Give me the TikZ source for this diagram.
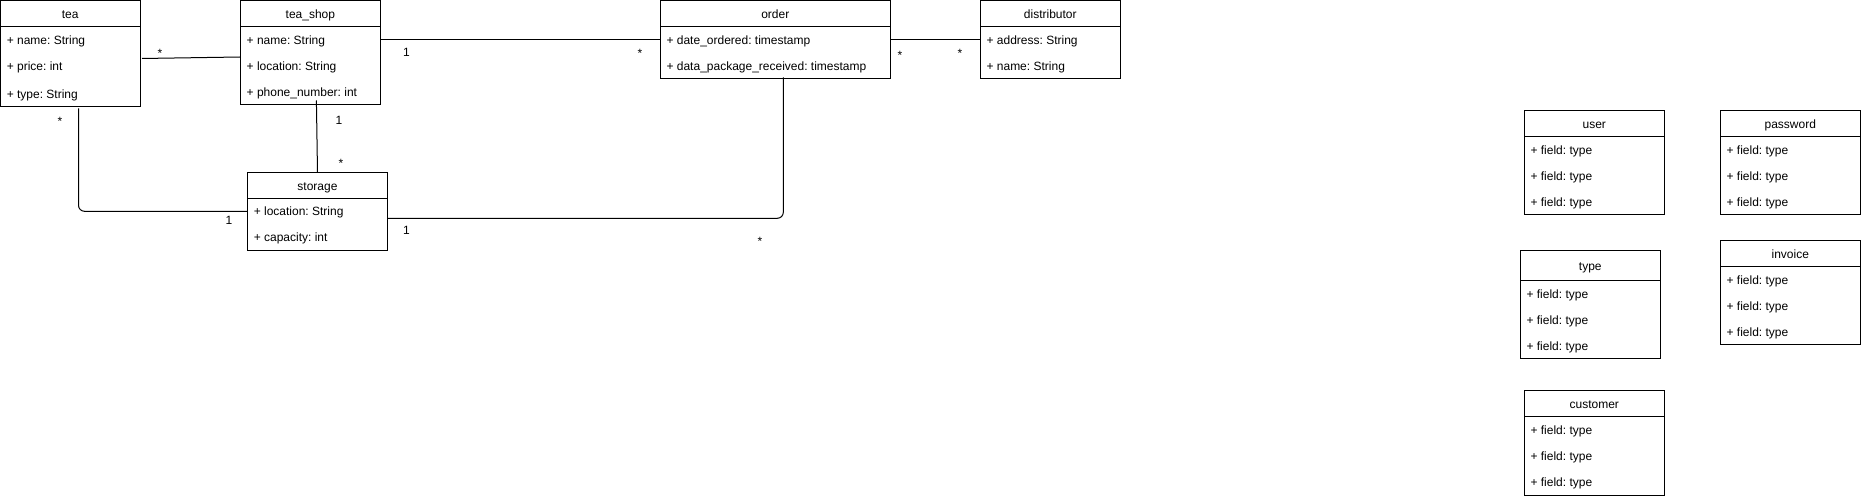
\documentclass[tikz,border=0pt]{standalone}
\usepackage{fontspec}
\setmainfont{Liberation Sans}
\usetikzlibrary{calc}
\frenchspacing
\newcommand{\umlbox}[6]{%
  \node[cls, minimum width=#4*0.75pt, minimum height=#5*0.75pt] (#1) at (#2,#3) {};
  \draw[conn] ($(#1.north west)+(0,#6)$) -- ($(#1.north east)+(0,#6)$);
}
\begin{document}
\frenchspacing
\begin{tikzpicture}[x=0.75pt,y=-0.75pt,
  font=\fontsize{9pt}{11pt}\selectfont\frenchspacing,
  cls/.style={draw, line width=0.75pt, anchor=north west, inner sep=0pt, outer sep=0pt},
  conn/.style={line width=0.75pt},
  ttl/.style={anchor=base, inner sep=0pt},
  attr/.style={anchor=base west, inner sep=0pt},
  mult/.style={anchor=base, inner sep=0pt}]
\useasboundingbox (0,0) rectangle (1861,498);

% classes
\umlbox{tea}{0.5}{0.5}{139.5}{106}{26}
\umlbox{tshop}{240.4}{0.5}{140}{104}{26}
\umlbox{storage}{247.5}{172.3}{140}{78}{26}
\umlbox{order}{660.3}{0.5}{230}{78}{26}
\umlbox{dist}{980.3}{0.5}{140}{78}{26}
\umlbox{user}{1524.3}{110.3}{140}{104}{26}
\umlbox{pwd}{1720.3}{110.3}{140}{104}{26}
\umlbox{type}{1520.3}{250.3}{140}{108}{30}
\umlbox{inv}{1720.3}{240.3}{140}{104}{26}
\umlbox{cust}{1524.3}{390.3}{140}{105}{26}

% titles
\node[ttl] (tea-t) at ($(tea.north)+(0,18)$) {tea};
\node[ttl] (tshop-t) at ($(tshop.north)+(0,18)$) {tea\_shop};
\node[ttl] (storage-t) at ($(storage.north)+(0,18)$) {storage};
\node[ttl] (order-t) at ($(order.north)+(0,18)$) {order};
\node[ttl] (dist-t) at ($(dist.north)+(0,18)$) {distributor};
\node[ttl] (user-t) at ($(user.north)+(0,18)$) {user};
\node[ttl] (pwd-t) at ($(pwd.north)+(0,18)$) {password};
\node[ttl] (type-t) at ($(type.north)+(0,20)$) {type};
\node[ttl] (inv-t) at ($(inv.north)+(0,18)$) {invoice};
\node[ttl] (cust-t) at ($(cust.north)+(0,18)$) {customer};

% attributes
\node[attr] (tea-a1) at ($(tea.north west)+(6,44)$) {+ name: String};
\node[attr] (tea-a2) at ($(tea.north west)+(6,70)$) {+ price: int};
\node[attr] (tea-a3) at ($(tea.north west)+(6,98)$) {+ type: String};

\node[attr] (tshop-a1) at ($(tshop.north west)+(6,44)$) {+ name: String};
\node[attr] (tshop-a2) at ($(tshop.north west)+(6,70)$) {+ location: String};
\node[attr] (tshop-a3) at ($(tshop.north west)+(6,96)$) {+ phone\_number: int};

\node[attr] (storage-a1) at ($(storage.north west)+(6,43.5)$) {+ location: String};
\node[attr] (storage-a2) at ($(storage.north west)+(6,69.5)$) {+ capacity: int};

\node[attr] (order-a1) at ($(order.north west)+(6,44)$) {+ date\_ordered: timestamp};
\node[attr] (order-a2) at ($(order.north west)+(6,70)$) {+ data\_package\_received: timestamp};

\node[attr] (dist-a1) at ($(dist.north west)+(6,44)$) {+ address: String};
\node[attr] (dist-a2) at ($(dist.north west)+(6,70)$) {+ name: String};

\foreach \b/\o in {user/0,pwd/0,inv/0,cust/0,type/4}{
  \node[attr] (\b-a1) at ($(\b.north west)+(6,43.8+\o)$) {+ field: type};
  \node[attr] (\b-a2) at ($(\b.north west)+(6,69.8+\o)$) {+ field: type};
  \node[attr] (\b-a3) at ($(\b.north west)+(6,95.8+\o)$) {+ field: type};
}

% connectors
\draw[conn] ($(tea.north east)+(2,58)$) -- ($(tshop.north west)+(0,56.5)$);
\draw[conn] ($(tshop.north east)+(0,39)$) -- ($(order.north west)+(0,39)$);
\draw[conn] ($(order.north east)+(0,39)$) -- ($(dist.north west)+(0,39)$);
\draw[conn] ($(tshop.north west)+(76,100)$) -- (storage.north);
\draw[conn, rounded corners=4.5pt] ($(tea.north west)+(78,108)$) |- ($(storage.north west)+(0,39)$);
\draw[conn, rounded corners=4.5pt] ($(storage.north east)+(0,46)$) -| ($(order.north west)+(123,77)$);

% multiplicities
\node[mult] (m1) at (160,57.7) {*};
\node[mult] (m2) at (406.5,57) {1};
\node[mult] (m3) at (640,57.7) {*};
\node[mult] (m4) at (900,59.3) {*};
\node[mult] (m5) at (960,57.7) {*};
\node[mult] (m6) at (339,125) {1};
\node[mult] (m7) at (341,168) {*};
\node[mult] (m8) at (60,125.3) {*};
\node[mult] (m9) at (229,225) {1};
\node[mult] (m10) at (406.5,234.3) {1};
\node[mult] (m11) at (760,245.3) {*};
\end{tikzpicture}
\end{document}
